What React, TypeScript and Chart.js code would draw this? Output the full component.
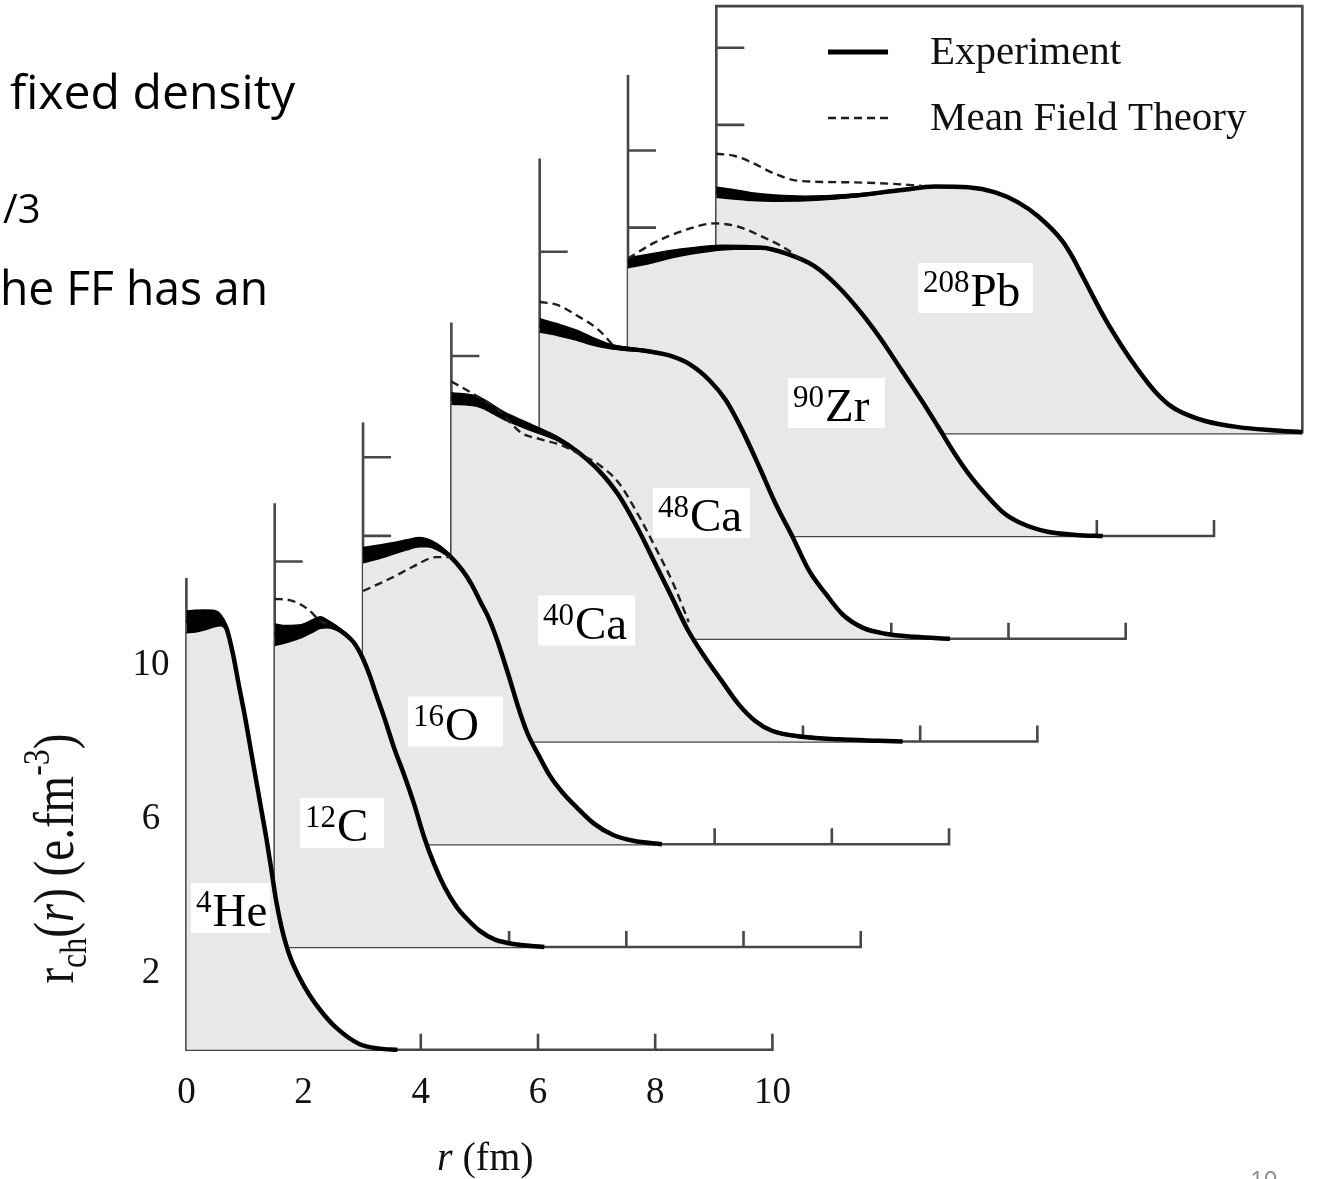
import React, { useEffect, useRef } from "react";
import { Chart, registerables } from "chart.js";

Chart.register(...registerables);

// ---------------- tick labels ----------------
const X_TICK_VALUES = [0, 2, 4, 6, 8, 10];
const X_TICK_LABELS = ["0", "2", "4", "6", "8", "10"];
const Y_TICK_LABEL_VALUES = [2, 6, 10];
const Y_TICK_LABELS = ["2", "6", "10"];

// ---------------- nuclei ----------------
const NUCLEUS_MASS = ["4", "12", "16", "40", "48", "90", "208"];
const NUCLEUS_SYMBOL = ["He", "C", "O", "Ca", "Ca", "Zr", "Pb"];

// ---------------- 4He ----------------
const HE4_R = [0, 0.15, 0.3, 0.45, 0.58, 0.68, 0.79, 0.9, 1.0, 1.09, 1.18, 1.27, 1.37, 1.46, 1.53, 1.62, 1.76, 1.92, 2.1, 2.3, 2.55, 2.95, 3.3, 3.6];
const HE4_EXP = [11.1, 11.12, 11.15, 11.18, 11.15, 10.95, 10.3, 9.42, 8.64, 7.86, 7.08, 6.3, 5.44, 4.57, 3.88, 3.2, 2.45, 1.9, 1.42, 1.0, 0.58, 0.15, 0.03, 0];
const HE4_ERR = [0.28, 0.28, 0.26, 0.22, 0.15, 0.08, 0.05, 0.03, 0.02, 0.02, 0.01, 0, 0, 0, 0, 0, 0, 0, 0, 0, 0, 0, 0, 0];
const HE4_MFT_R: number[] = [];
const HE4_MFT: number[] = [];

// ---------------- 12C ----------------
const C12_R = [0, 0.2, 0.45, 0.65, 0.78, 0.9, 1.05, 1.2, 1.35, 1.5, 1.62, 1.72, 1.87, 2.04, 2.2, 2.38, 2.55, 2.72, 2.9, 3.1, 3.3, 3.5, 3.75, 4.0, 4.3, 4.6];
const C12_EXP = [8.1, 8.12, 8.19, 8.33, 8.42, 8.38, 8.28, 8.12, 7.9, 7.5, 7.05, 6.6, 5.95, 5.15, 4.5, 3.7, 2.85, 2.15, 1.55, 1.05, 0.7, 0.42, 0.2, 0.1, 0.04, 0];
const C12_ERR = [0.28, 0.22, 0.17, 0.16, 0.15, 0.1, 0.06, 0.04, 0.02, 0.01, 0, 0, 0, 0, 0, 0, 0, 0, 0, 0, 0, 0, 0, 0, 0, 0];
const C12_MFT_R = [0, 0.25, 0.45, 0.6, 0.78, 0.9];
const C12_MFT = [9.03, 9.0, 8.88, 8.72, 8.45, 8.38];

// ---------------- 16O ----------------
const O16_R = [0, 0.25, 0.5, 0.75, 0.97, 1.1, 1.26, 1.4, 1.5, 1.7, 1.85, 2.0, 2.15, 2.3, 2.5, 2.65, 2.8, 3.0, 3.2, 3.4, 3.65, 3.93, 4.27, 4.61, 5.1];
const O16_EXP = [7.5, 7.58, 7.67, 7.77, 7.84, 7.82, 7.72, 7.58, 7.45, 7.1, 6.75, 6.3, 5.85, 5.25, 4.3, 3.55, 2.9, 2.3, 1.75, 1.35, 0.95, 0.55, 0.24, 0.09, 0];
const O16_ERR = [0.2, 0.18, 0.15, 0.13, 0.12, 0.1, 0.08, 0.06, 0.04, 0.02, 0, 0, 0, 0, 0, 0, 0, 0, 0, 0, 0, 0, 0, 0, 0];
const O16_MFT_R = [0, 0.5, 0.85, 1.25, 1.5];
const O16_MFT = [6.57, 6.92, 7.2, 7.45, 7.45];

// ---------------- 40Ca ----------------
const CA40_R = [0, 0.45, 0.9, 1.37, 1.83, 2.17, 2.51, 2.85, 3.19, 3.48, 3.76, 4.04, 4.33, 4.61, 4.9, 5.18, 5.47, 6.03, 6.6, 7.3, 7.7];
const CA40_EXP = [8.9, 8.82, 8.45, 8.14, 7.84, 7.5, 7.04, 6.4, 5.5, 4.61, 3.75, 2.88, 2.18, 1.58, 0.97, 0.54, 0.28, 0.12, 0.06, 0.02, 0];
const CA40_ERR = [0.15, 0.13, 0.1, 0.08, 0.05, 0.03, 0.02, 0.02, 0.01, 0, 0, 0, 0, 0, 0, 0.02, 0.03, 0.03, 0.02, 0, 0];
const CA40_MFT_R = [0, 0.45, 0.8, 1.2, 1.5, 1.85, 2.2, 2.5, 2.85, 3.2, 3.5, 3.8, 4.05];
const CA40_MFT = [9.34, 8.95, 8.6, 8.0, 7.85, 7.7, 7.45, 7.2, 6.72, 5.85, 4.98, 4.05, 3.1];

// ---------------- 48Ca ----------------
const CA48_R = [0, 0.3, 0.62, 0.9, 1.19, 1.5, 1.76, 2.0, 2.21, 2.55, 2.9, 3.18, 3.46, 3.75, 4.03, 4.32, 4.6, 4.89, 5.17, 5.51, 5.9, 6.4, 7.0];
const CA48_EXP = [8.13, 8.02, 7.88, 7.72, 7.59, 7.52, 7.48, 7.42, 7.35, 7.13, 6.7, 6.18, 5.4, 4.45, 3.49, 2.63, 1.76, 1.15, 0.63, 0.29, 0.13, 0.05, 0];
const CA48_ERR = [0.17, 0.15, 0.13, 0.1, 0.06, 0.04, 0.03, 0.02, 0, 0, 0, 0, 0, 0, 0, 0, 0, 0, 0, 0, 0, 0, 0];
const CA48_MFT_R = [0, 0.3, 0.62, 1.0, 1.25];
const CA48_MFT = [8.74, 8.66, 8.4, 8.02, 7.62];

// ---------------- 90Zr ----------------
const ZR90_R = [0, 0.4, 0.73, 1.1, 1.59, 2.27, 2.73, 3.18, 3.58, 3.98, 4.32, 4.66, 5.0, 5.29, 5.57, 5.85, 6.14, 6.42, 6.71, 7.16, 7.65, 8.1];
const ZR90_EXP = [7.09, 7.2, 7.31, 7.4, 7.48, 7.48, 7.31, 7.0, 6.48, 5.79, 5.1, 4.32, 3.54, 2.84, 2.15, 1.54, 1.02, 0.59, 0.33, 0.11, 0.03, 0];
const ZR90_ERR = [0.13, 0.12, 0.1, 0.08, 0.06, 0.03, 0.02, 0, 0, 0, 0, 0, 0, 0, 0, 0, 0, 0, 0, 0, 0, 0];
const ZR90_MFT_R = [0, 0.45, 1.02, 1.47, 1.87, 2.27, 2.73, 3.0];
const ZR90_MFT = [7.2, 7.61, 7.96, 8.11, 8.03, 7.78, 7.42, 7.1];

// ---------------- 208Pb ----------------
const PB208_R = [0, 0.3, 0.6, 1.0, 1.51, 2.31, 3.16, 3.73, 4.3, 4.76, 5.15, 5.49, 5.9, 6.06, 6.2, 6.35, 6.63, 6.92, 7.2, 7.49, 7.77, 8.05, 8.34, 8.91, 9.48, 10.0];
const PB208_EXP = [6.25, 6.2, 6.14, 6.1, 6.09, 6.16, 6.31, 6.4, 6.38, 6.25, 5.99, 5.63, 5.0, 4.62, 4.22, 3.78, 2.98, 2.26, 1.64, 1.08, 0.69, 0.47, 0.32, 0.16, 0.08, 0.03];
const PB208_ERR = [0.13, 0.12, 0.1, 0.08, 0.06, 0.04, 0.02, 0, 0, 0, 0, 0, 0, 0, 0, 0, 0, 0, 0, 0, 0, 0, 0, 0, 0, 0];
const PB208_MFT_R = [0, 0.3, 0.6, 1.0, 1.4, 2.3, 3.0, 3.5];
const PB208_MFT = [7.25, 7.2, 7.03, 6.73, 6.55, 6.51, 6.47, 6.42];

// ---------------- per-panel axes (local units) ----------------
const PANEL_X_TICKS = [2, 4, 6, 8];
const PANEL_X_END = 10;
const PANEL_Y_TOP = [12.24, 11.51, 10.94, 10.87, 12.46, 11.96, 11.08];
const PANEL_Y_TICKS = [
  [2, 4, 6, 8, 10],
  [6, 10],
  [6.1, 8, 10.04],
  [8, 10],
  [7.12, 10.04],
  [6, 8, 10],
  [6, 8, 10],
];

// ---------------- layout (not data) ----------------
const DX = 1.5072; // panel shift in r
const DY = 2.6654; // panel shift in density
const X_MIN = -3.1809;
const X_MAX = 19.2935;
const Y_MIN = -3.3515;
const Y_MAX = 27.232;
const Y_TICK_LEN = 0.478; // in r units (28 px)
const X_TICK_LEN = 0.415; // in density units (16 px)
const LABEL_ANCHOR = [
  [0.079, 3.678],
  [0.431, 3.218],
  [0.767, 3.185],
  [1.478, 3.139],
  [1.934, 3.263],
  [2.73, 3.451],
  [3.442, 3.769],
];
const LABEL_BOX_W = [79, 84, 95, 97, 97, 97, 115];
const LEGEND_R0 = 1.906;
const LEGEND_R1 = 2.93;
const LEGEND_TEXT_R = 3.646;
const LEGEND_V_EXP = 9.891;
const LEGEND_V_MFT = 8.179;

const SERIF = '"Liberation Serif", "Times New Roman", serif';
const SANS = '"Open Sans", "Noto Sans", sans-serif';
const AXIS_COLOR = "#474747";
const FILL_COLOR = "#e8e8e8";
const DASH_COLOR = "#1e1e1e";

const NUCLEI = [
  { r: HE4_R, exp: HE4_EXP, err: HE4_ERR, mr: HE4_MFT_R, mv: HE4_MFT },
  { r: C12_R, exp: C12_EXP, err: C12_ERR, mr: C12_MFT_R, mv: C12_MFT },
  { r: O16_R, exp: O16_EXP, err: O16_ERR, mr: O16_MFT_R, mv: O16_MFT },
  { r: CA40_R, exp: CA40_EXP, err: CA40_ERR, mr: CA40_MFT_R, mv: CA40_MFT },
  { r: CA48_R, exp: CA48_EXP, err: CA48_ERR, mr: CA48_MFT_R, mv: CA48_MFT },
  { r: ZR90_R, exp: ZR90_EXP, err: ZR90_ERR, mr: ZR90_MFT_R, mv: ZR90_MFT },
  { r: PB208_R, exp: PB208_EXP, err: PB208_ERR, mr: PB208_MFT_R, mv: PB208_MFT },
];

function shifted(i: number, rs: number[], vs: number[]) {
  return rs.map((r, k) => ({ x: r + i * DX, y: vs[k] + i * DY }));
}

function axisPoints(i: number) {
  const ox = i * DX;
  const oy = i * DY;
  const pts: any[] = [];
  const gap = () => pts.push({ x: ox, y: null });
  const top = PANEL_Y_TOP[i];
  if (i === NUCLEI.length - 1) {
    pts.push({ x: ox + PANEL_X_END, y: oy });
    pts.push({ x: ox + PANEL_X_END, y: oy + top });
    pts.push({ x: ox, y: oy + top });
    pts.push({ x: ox, y: oy });
    pts.push({ x: ox + PANEL_X_END, y: oy });
  } else {
    pts.push({ x: ox, y: oy + top });
    pts.push({ x: ox, y: oy });
    pts.push({ x: ox + PANEL_X_END, y: oy });
    pts.push({ x: ox + PANEL_X_END, y: oy + X_TICK_LEN });
  }
  PANEL_X_TICKS.forEach((t) => {
    gap();
    pts.push({ x: ox + t, y: oy });
    pts.push({ x: ox + t, y: oy + X_TICK_LEN });
  });
  PANEL_Y_TICKS[i].forEach((t) => {
    gap();
    pts.push({ x: ox, y: oy + t });
    pts.push({ x: ox + Y_TICK_LEN, y: oy + t });
  });
  return pts;
}

function buildDatasets() {
  const ds: any[] = [];
  NUCLEI.forEach((n, i) => {
    const base = i * 10;
    ds.push({
      label: "axis" + i,
      data: axisPoints(i),
      borderColor: AXIS_COLOR,
      borderWidth: 2.6,
      pointRadius: 0,
      fill: false,
      spanGaps: false,
      tension: 0,
      order: base + 6,
    });
    ds.push({
      label: "Experiment " + NUCLEUS_MASS[i] + NUCLEUS_SYMBOL[i],
      data: shifted(i, n.r, n.exp),
      borderColor: "#000",
      borderWidth: 4.5,
      backgroundColor: FILL_COLOR,
      fill: { value: i * DY },
      pointRadius: 0,
      cubicInterpolationMode: "monotone",
      order: base + 5,
    });
    const hi = n.exp.map((v, k) => v + n.err[k]);
    const lo = n.exp.map((v, k) => v - n.err[k]);
    ds.push({
      label: "band hi " + i,
      data: shifted(i, n.r, hi),
      borderColor: "#000",
      borderWidth: 1.5,
      backgroundColor: "#000",
      fill: "+1",
      pointRadius: 0,
      cubicInterpolationMode: "monotone",
      order: base + 3,
    });
    ds.push({
      label: "band lo " + i,
      data: shifted(i, n.r, lo),
      borderColor: "#000",
      borderWidth: 1.5,
      fill: false,
      pointRadius: 0,
      cubicInterpolationMode: "monotone",
      order: base + 4,
    });
    if (n.mr.length) {
      ds.push({
        label: "Mean Field Theory " + NUCLEUS_MASS[i] + NUCLEUS_SYMBOL[i],
        data: shifted(i, n.mr, n.mv),
        borderColor: DASH_COLOR,
        borderWidth: 2.4,
        borderDash: [8, 5],
        fill: false,
        pointRadius: 0,
        cubicInterpolationMode: "monotone",
        order: base + 2,
      });
    }
  });
  return ds;
}

function fitText(ctx: CanvasRenderingContext2D, text: string, x: number, y: number, w: number) {
  const m = ctx.measureText(text).width;
  ctx.save();
  ctx.translate(x, y);
  ctx.scale(w / m, 1);
  ctx.fillText(text, 0, 0);
  ctx.restore();
}

const overlayPlugin = {
  id: "overlay",
  afterDraw(chart: any) {
    const ctx: CanvasRenderingContext2D = chart.ctx;
    const xs = chart.scales.x;
    const ys = chart.scales.y;
    const px = (v: number) => xs.getPixelForValue(v);
    const py = (v: number) => ys.getPixelForValue(v);
    ctx.save();

    // nucleus labels in white boxes
    LABEL_ANCHOR.forEach(([lr, lv], i) => {
      const x = px(lr + i * DX);
      const y = py(lv + i * DY);
      ctx.font = `31px ${SERIF}`;
      const wm = ctx.measureText(NUCLEUS_MASS[i]).width;
      ctx.fillStyle = "#fff";
      ctx.fillRect(x, y - 25, LABEL_BOX_W[i], 50);
      ctx.fillStyle = "#000";
      ctx.textAlign = "left";
      ctx.textBaseline = "alphabetic";
      ctx.fillText(NUCLEUS_MASS[i], x + 5, y + 4);
      ctx.font = `47px ${SERIF}`;
      ctx.fillText(NUCLEUS_SYMBOL[i], x + 5 + wm + 1, y + 18);
    });

    // tick labels of front panel
    ctx.fillStyle = "#111";
    ctx.font = `37px ${SERIF}`;
    ctx.textAlign = "center";
    ctx.textBaseline = "middle";
    Y_TICK_LABEL_VALUES.forEach((v, k) => ctx.fillText(Y_TICK_LABELS[k], px(-0.604), py(v) + 1));
    X_TICK_VALUES.forEach((v, k) => ctx.fillText(X_TICK_LABELS[k], px(v), py(-1.12)));

    // x title
    ctx.textAlign = "left";
    ctx.textBaseline = "alphabetic";
    ctx.font = `italic 40px ${SERIF}`;
    const wr = ctx.measureText("r").width;
    ctx.font = `40px ${SERIF}`;
    const wrest = ctx.measureText(" (fm)").width;
    const xc = px(5.1);
    const xb = py(-3.118);
    ctx.font = `italic 40px ${SERIF}`;
    ctx.fillText("r", xc - (wr + wrest) / 2, xb);
    ctx.font = `40px ${SERIF}`;
    ctx.fillText(" (fm)", xc - (wr + wrest) / 2 + wr, xb);

    // y title (rotated)
    const pieces = [
      { t: "r", f: `56px ${SERIF}`, dy: 0 },
      { t: "ch", f: `38px ${SERIF}`, dy: 13 },
      { t: "(", f: `56px ${SERIF}`, dy: 0 },
      { t: "r", f: `italic 56px ${SERIF}`, dy: 0 },
      { t: ") (e.fm", f: `56px ${SERIF}`, dy: 0 },
      { t: "-3", f: `38px ${SERIF}`, dy: -24 },
      { t: ")", f: `56px ${SERIF}`, dy: 0 },
    ];
    let total = 0;
    const widths = pieces.map((p) => {
      ctx.font = p.f;
      const w = ctx.measureText(p.t).width;
      total += w;
      return w;
    });
    ctx.save();
    ctx.translate(px(-1.93), py(4.96));
    ctx.rotate(-Math.PI / 2);
    ctx.scale(250 / total, 1);
    let cx = -total / 2;
    pieces.forEach((p, k) => {
      ctx.font = p.f;
      ctx.fillText(p.t, cx, p.dy);
      cx += widths[k];
    });
    ctx.restore();

    // legend inside the boxed panel
    const L = NUCLEI.length - 1;
    const lx0 = px(LEGEND_R0 + L * DX);
    const lx1 = px(LEGEND_R1 + L * DX);
    const ltx = px(LEGEND_TEXT_R + L * DX);
    const ly1 = py(LEGEND_V_EXP + L * DY);
    const ly2 = py(LEGEND_V_MFT + L * DY);
    ctx.strokeStyle = "#000";
    ctx.lineWidth = 5;
    ctx.beginPath();
    ctx.moveTo(lx0, ly1);
    ctx.lineTo(lx1, ly1);
    ctx.stroke();
    ctx.setLineDash([8, 5]);
    ctx.lineWidth = 2.4;
    ctx.strokeStyle = DASH_COLOR;
    ctx.beginPath();
    ctx.moveTo(lx0, ly2);
    ctx.lineTo(lx1, ly2);
    ctx.stroke();
    ctx.setLineDash([]);
    ctx.fillStyle = "#111";
    ctx.font = `41px ${SERIF}`;
    ctx.textBaseline = "alphabetic";
    ctx.fillText("Experiment", ltx, ly1 + 12);
    ctx.fillText("Mean Field Theory", ltx, ly2 + 12);

    // slide text fragments around the figure
    ctx.fillStyle = "#000";
    ctx.font = `48px ${SANS}`;
    fitText(ctx, "fixed density", 10, 109, 285);
    fitText(ctx, "he FF has an", 0, 305, 268);
    ctx.font = `40px ${SANS}`;
    const w1 = ctx.measureText("1").width;
    ctx.fillText("1/3", 3 - w1, 223);
    ctx.fillStyle = "#8c8c8c";
    ctx.font = `24px ${SANS}`;
    ctx.textBaseline = "top";
    ctx.fillText("10", 1250, 1169);

    ctx.restore();
  },
};

export default function App() {
  const ref = useRef<HTMLCanvasElement | null>(null);
  useEffect(() => {
    if (!ref.current) return;
    const chart = new Chart(ref.current, {
      type: "line",
      data: { datasets: buildDatasets() },
      options: {
        animation: false,
        responsive: false,
        devicePixelRatio: 1,
        events: [],
        layout: { padding: 0 },
        plugins: {
          legend: { display: false },
          tooltip: { enabled: false },
          title: { display: false },
        },
        scales: {
          x: { type: "linear", display: false, min: X_MIN, max: X_MAX },
          y: { type: "linear", display: false, min: Y_MIN, max: Y_MAX },
        },
        elements: { point: { radius: 0 } },
      },
      plugins: [overlayPlugin],
    } as any);
    return () => chart.destroy();
  }, []);
  return (
    <div style={{ position: "absolute", left: 0, top: 0, width: 1317, height: 1179, background: "#fff" }}>
      <canvas ref={ref} width={1317} height={1179} style={{ display: "block" }} />
    </div>
  );
}
